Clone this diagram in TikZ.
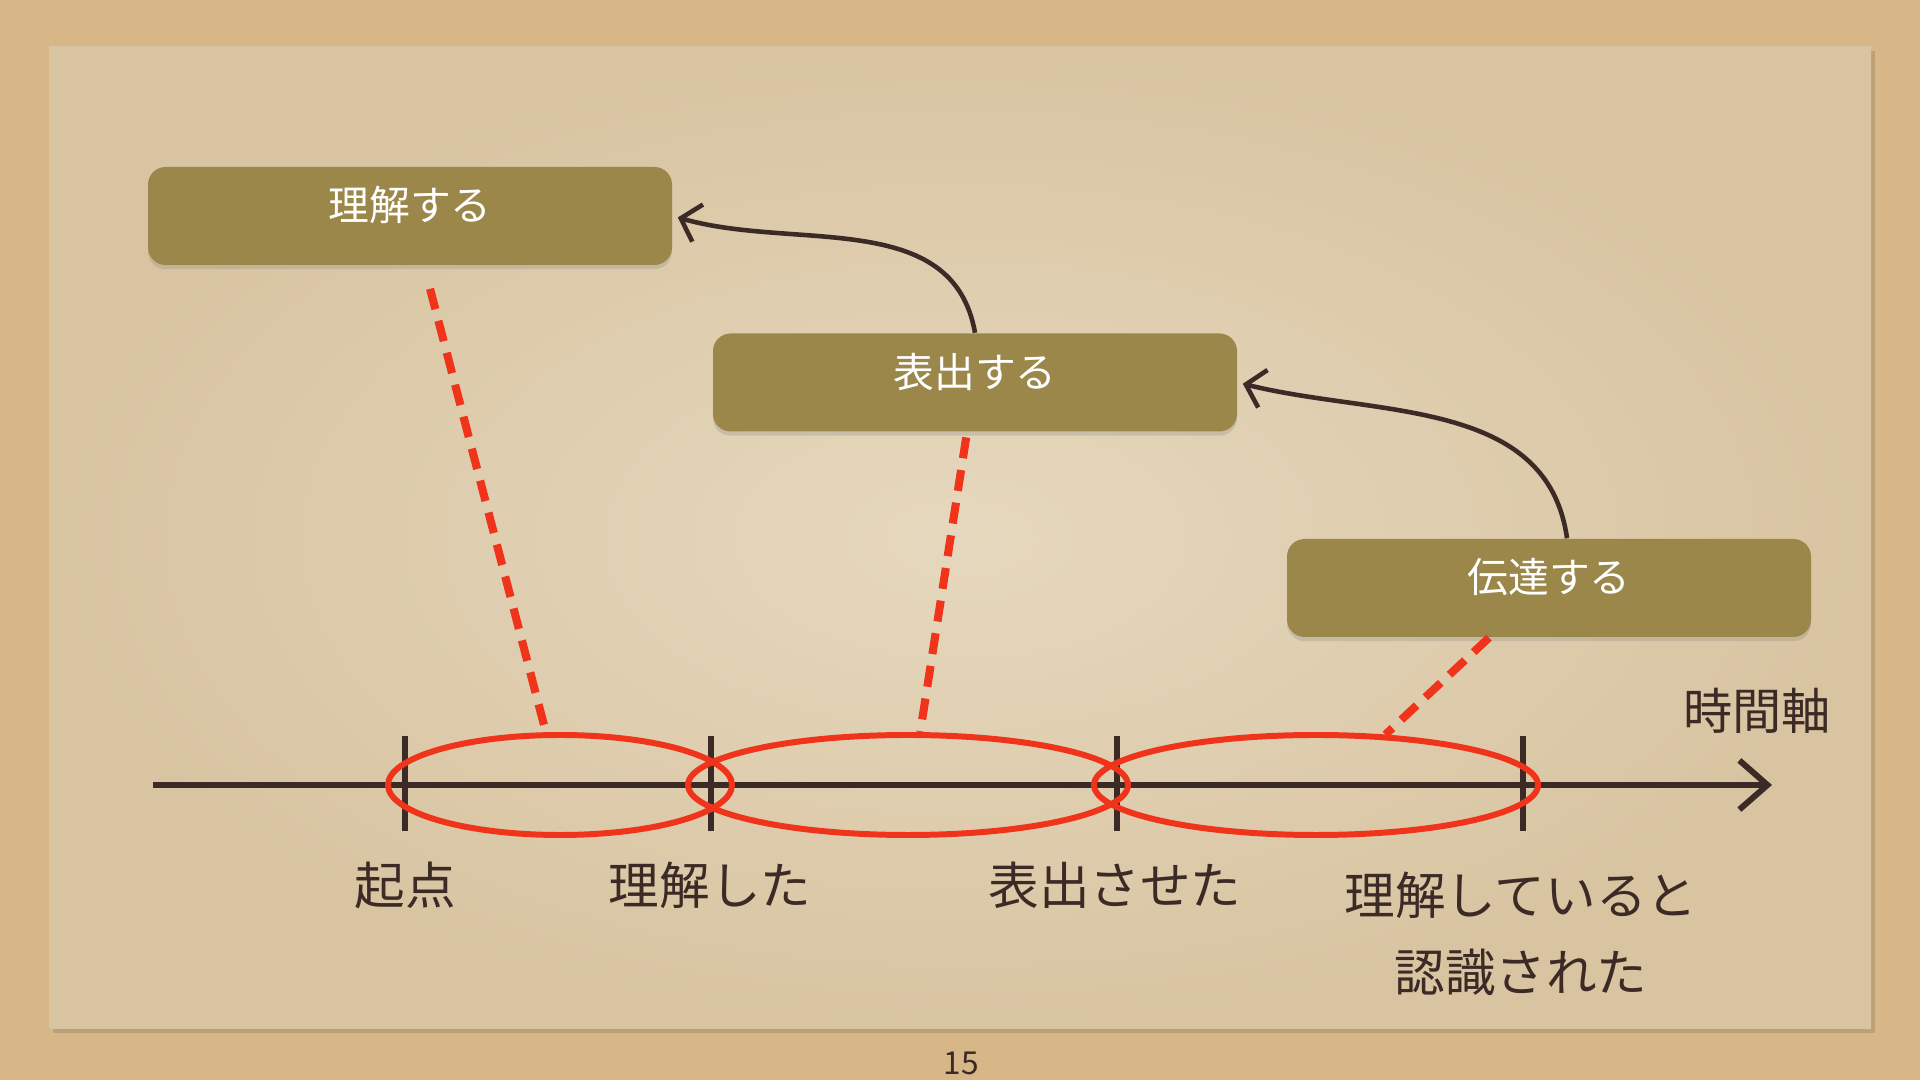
\documentclass[tikz,border=0pt]{standalone}
\usepackage{fontspec}
\setmainfont{Noto Sans CJK JP}
\usetikzlibrary{positioning, shapes.geometric, arrows.meta, calc, shadows}
\definecolor{cork}{HTML}{D7B787}
\definecolor{paperin}{HTML}{E6D8BE}
\definecolor{paperout}{HTML}{D8C4A1}
\definecolor{olive}{HTML}{9C874B}
\definecolor{ink}{HTML}{3B2A25}
\definecolor{marker}{HTML}{F0341C}

\begin{document}
\begin{tikzpicture}[
      b/.style={fill=olive, rounded corners=5pt, text=white, font=\fontsize{11.6}{14}\selectfont, text height=0.36cm, text depth=0.26cm, minimum width=5.24cm, minimum height=0.98cm, align=center, drop shadow={shadow xshift=0pt, shadow yshift=-1.2pt, opacity=0.25}},
      lab/.style={text=ink, font=\fontsize{14.4}{22}\selectfont, align=center},
      ring/.style={ellipse, draw=marker, line width=1.7pt, inner sep=0pt},
      cue/.style={draw=marker, line width=2.3pt, dash pattern=on 6pt off 3.4pt},
      flow/.style={draw=ink, line width=1.3pt, -{Straight Barb[length=5pt, width=11pt]}}]
    % background and paper
    \useasboundingbox (0,0) rectangle (19.2,10.8);
    \fill[cork] (0,0) rectangle (19.2,10.8);
    \fill[black, opacity=0.12] (0.53,0.47) rectangle (18.75,10.29);
    \shade[inner color=paperin, outer color=paperout] (0.49,0.51) rectangle (18.71,10.33);
    % boxes
    \node[b] (u) at (4.10,8.64) {理解する};
    \node[b] (p) at (9.75,6.975) {表出する};
    \node[b] (t) at (15.49,4.92) {伝達する};
    % time axis
    \coordinate (ax0) at (1.53,2.95);
    \coordinate (ax1) at (17.72,2.95);
    \draw[ink, line width=1.7pt, -{Straight Barb[length=8pt, width=14pt]}] (ax0) -- (ax1);
    \foreach \x in {4.05,7.11,11.17,15.23}
      \draw[ink, line width=1.6pt] (\x,2.49) -- (\x,3.44);
    \node[lab, font=\fontsize{14}{17}\selectfont] (ax) at (17.57,3.69) {時間軸};
    % spans
    \node[ring, minimum width=3.44cm, minimum height=1.0cm] (e1) at (5.60,2.95) {};
    \node[ring, minimum width=4.40cm, minimum height=1.0cm] (e2) at (9.08,2.95) {};
    \node[ring, minimum width=4.44cm, minimum height=1.0cm] (e3) at (13.16,2.95) {};
    \draw[cue, shorten <=6.8pt] ($(u.south)+(0.14,0)$) -- (e1.105);
    \draw[cue, shorten <=1.5pt] ($(p.south)+(-0.08,0)$) -- (e2.77);
    \draw[cue] ($(t.south)+(-0.60,0)$) -- (e3.36);
    % flow between steps
    \draw[flow, shorten >=1.5pt] (p.north) to[out=100, in=-16] (u.east);
    \draw[flow, shorten >=1.5pt] ($(t.north)+(0.18,0)$) to[out=98, in=-14] (p.east);
    % labels
    \node[lab] (l0) at (4.05,1.95) {起点};
    \node[lab] (l1) at (7.10,1.95) {理解した};
    \node[lab] (l2) at (11.15,1.95) {表出させた};
    \node[lab] (l3) at (15.21,1.46) {理解していると\\認識された};
    \node[text=ink, font=\fontsize{9}{11}\selectfont] (pg) at (9.61,0.17) {15};
  \end{tikzpicture}
\end{document}
